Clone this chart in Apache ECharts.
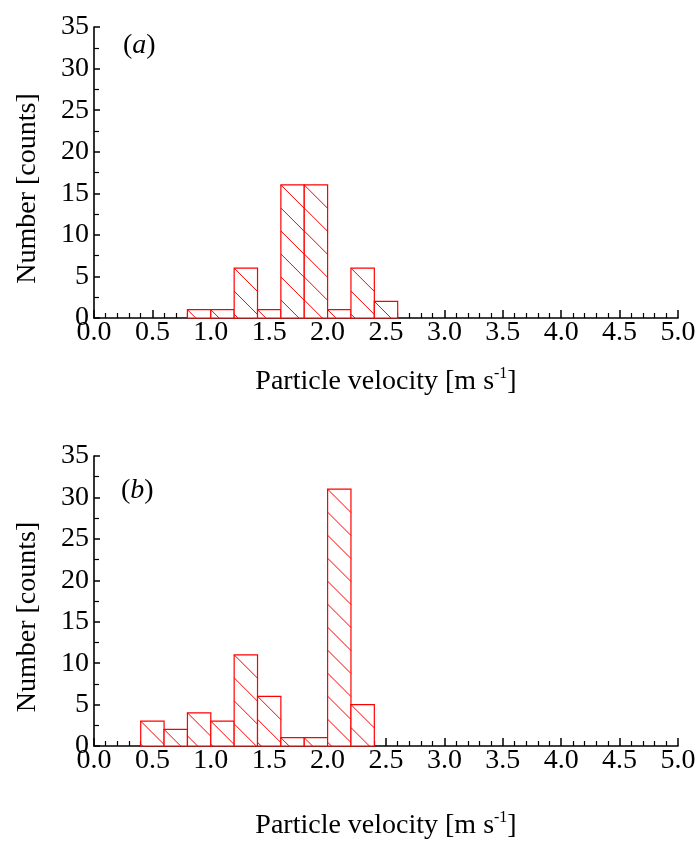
<!DOCTYPE html>
<html>
<head>
<meta charset="utf-8">
<script src="https://cdn.jsdelivr.net/npm/echarts@6/dist/echarts.min.js"></script>
<style>
  html, body { margin: 0; padding: 0; background: #fff; }
  #chart { width: 699px; height: 841px; }
</style>
</head>
<body>
<div id="chart"></div>
<script>
// Histogram bins (left edges, m/s) and counts for each panel
const binWidth = 0.2;
const binLeftA = [0.8, 1.0, 1.2, 1.4, 1.6, 1.8, 2.0, 2.2, 2.4];
const countsA  = [1, 1, 6, 1, 16, 16, 1, 6, 2];
const binLeftB = [0.4, 0.6, 0.8, 1.0, 1.2, 1.4, 1.6, 1.8, 2.0, 2.2];
const countsB  = [3, 2, 4, 3, 11, 6, 1, 1, 31, 5];

const xTicks = [0, 0.5, 1, 1.5, 2, 2.5, 3, 3.5, 4, 4.5, 5];
const yTicks = [0, 5, 10, 15, 20, 25, 30, 35];

const FONT = '"Liberation Serif", "Times New Roman", serif';
const FS = 28;
const RED = '#ff0000';
const HATCH_GAP = 23; // vertical distance between hatch lines, px

function toData(lefts, counts) {
  return lefts.map((l, i) => [l, +(l + binWidth).toFixed(2), counts[i]]);
}

// Draws a hatched bar: white fill, "\" hatching clipped to the bar, red outline
function renderBar(params, api) {
  const tl = api.coord([api.value(0), api.value(2)]);
  const br = api.coord([api.value(1), 0]);
  const x0 = tl[0], y0 = tl[1], x1 = br[0], y1 = br[1];
  const children = [{
    type: 'rect',
    shape: { x: x0, y: y0, width: x1 - x0, height: y1 - y0 },
    style: { fill: '#fff', stroke: null }
  }];
  const c0 = y0 - x0;
  const kMin = -Math.ceil((x1 - x0) / HATCH_GAP) - 1;
  const kMax = Math.ceil((y1 - y0) / HATCH_GAP) + 1;
  for (let k = kMin; k <= kMax; k++) {
    const c = c0 + k * HATCH_GAP;
    const xs = Math.max(x0, y0 - c);
    const xe = Math.min(x1, y1 - c);
    if (xe - xs > 1) {
      children.push({
        type: 'line',
        shape: { x1: xs, y1: xs + c, x2: xe, y2: xe + c },
        style: { stroke: RED, lineWidth: 1 }
      });
    }
  }
  children.push({
    type: 'rect',
    shape: { x: x0, y: y0, width: x1 - x0, height: y1 - y0 },
    style: { fill: null, stroke: RED, lineWidth: 1.2 }
  });
  return { type: 'group', children };
}

function xAxisFor(gridIndex, nameGap) {
  return {
    type: 'value', gridIndex, min: xTicks[0], max: xTicks[xTicks.length - 1],
    interval: xTicks[1] - xTicks[0],
    name: 'Particle velocity [m s{sup|-1}]',
    nameLocation: 'middle', nameGap,
    nameTextStyle: {
      fontFamily: FONT, fontSize: FS, color: '#000',
      rich: { sup: { fontFamily: FONT, fontSize: 16, color: '#000', verticalAlign: 'top', padding: [0, 0, 16, 0] } }
    },
    axisLine: { show: true, onZero: false, lineStyle: { color: '#000', width: 1.6 } },
    axisTick: { show: true, inside: true, length: 8, lineStyle: { color: '#000', width: 1.5 } },
    minorTick: { show: true, splitNumber: 5, length: 5, lineStyle: { color: '#000', width: 1.2 } },
    splitLine: { show: false },
    axisLabel: {
      fontFamily: FONT, fontSize: FS, color: '#000', margin: 1,
      formatter: v => v.toFixed(1)
    }
  };
}

function yAxisFor(gridIndex) {
  return {
    type: 'value', gridIndex, min: yTicks[0], max: yTicks[yTicks.length - 1],
    interval: yTicks[1] - yTicks[0],
    name: 'Number [counts]', nameLocation: 'middle', nameGap: 52,
    // right padding nudges the rotated title slightly downward
    nameTextStyle: { fontFamily: FONT, fontSize: FS, color: '#000', padding: [0, 32, 0, 0] },
    axisLine: { show: true, lineStyle: { color: '#000', width: 1.6 } },
    axisTick: { show: true, inside: true, length: 6, lineStyle: { color: '#000', width: 1.5 } },
    minorTick: { show: true, splitNumber: 2, length: 5, lineStyle: { color: '#000', width: 1.2 } },
    splitLine: { show: false },
    axisLabel: { fontFamily: FONT, fontSize: FS, color: '#000', margin: 5 }
  };
}

const chart = echarts.init(document.getElementById('chart'), null, { renderer: 'canvas' });
chart.setOption({
  backgroundColor: '#fff',
  animation: false,
  grid: [
    { left: 94, top: 27, width: 584, height: 291 },
    { left: 94, top: 456, width: 584, height: 292 }
  ],
  xAxis: [xAxisFor(0, 48), xAxisFor(1, 64)],
  yAxis: [yAxisFor(0), yAxisFor(1)],
  series: [
    { type: 'custom', xAxisIndex: 0, yAxisIndex: 0, renderItem: renderBar, data: toData(binLeftA, countsA), clip: false },
    { type: 'custom', xAxisIndex: 1, yAxisIndex: 1, renderItem: renderBar, data: toData(binLeftB, countsB), clip: false }
  ],
  graphic: [
    {
      type: 'text', left: 123, top: 32,
      style: { text: '({i|a})', font: FS + 'px ' + FONT, fill: '#000',
        rich: { i: { fontFamily: FONT, fontSize: FS, fontStyle: 'italic', fill: '#000' } } }
    },
    {
      type: 'text', left: 121, top: 477,
      style: { text: '({i|b})', font: FS + 'px ' + FONT, fill: '#000',
        rich: { i: { fontFamily: FONT, fontSize: FS, fontStyle: 'italic', fill: '#000' } } }
    }
  ]
});
</script>
</body>
</html>
